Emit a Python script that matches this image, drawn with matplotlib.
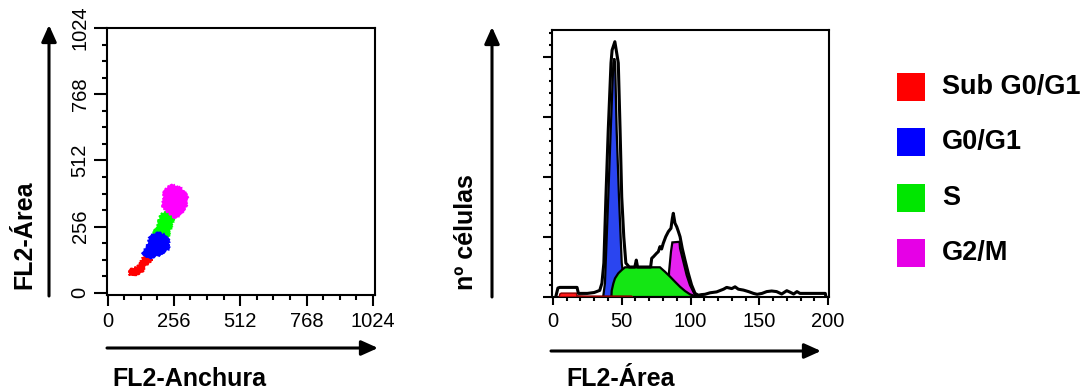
import matplotlib
matplotlib.use("Agg")
import matplotlib.pyplot as plt
from matplotlib.patches import Rectangle

plt.rcParams['font.family'] = ['Liberation Sans', 'DejaVu Sans']

# ---------------- data ----------------
# Dot plot clusters (outline vertices, FL2-Anchura vs FL2-Area)
red_x = [82, 88, 100, 114, 125, 133, 140, 146, 155, 165, 172, 160, 153, 145, 140, 128, 114, 100, 86]
red_y = [69, 89, 95, 102, 112, 127, 140, 143, 140, 134, 125, 118, 112, 100, 89, 80, 73, 68, 66]
green_x = [210, 236, 258, 249, 242, 236, 217, 191, 178, 189, 198, 204]
green_y = [307, 313, 294, 268, 245, 217, 217, 223, 230, 255, 281, 300]
blue_x = [178, 198, 223, 236, 236, 223, 198, 178, 159, 146, 133, 140, 153, 159, 165]
blue_y = [227, 232, 223, 204, 172, 159, 146, 137, 137, 146, 153, 166, 181, 202, 220]
mag_x = [217, 219, 236, 249, 266, 284, 296, 307, 309, 304, 294, 281, 266, 253, 236, 221, 213, 210]
mag_y = [365, 397, 412, 416, 412, 403, 394, 377, 358, 339, 322, 300, 288, 294, 309, 320, 335, 352]

# Histogram (FL2-Area vs cell count)
total_x = [2, 3.6, 5, 17.5, 18.5, 25, 30, 34, 35.6, 37, 38.5, 40.2, 42.2, 43, 45, 46, 47.5, 48.8,
           50, 51.5, 53, 55.5, 59.5, 60.6, 61.5, 71, 71.8, 73, 74.2, 75.4, 76.6, 77.8, 79, 80.2,
           82, 83.9, 85.8, 86.8, 87.5, 88.7, 90, 91.2, 92.4, 94, 96, 98.4, 100.8, 103.3, 105.7,
           108, 110.5, 114.2, 119, 124, 126.3, 130, 132.4, 134.8, 138.5, 142.2, 145.8, 148.4,
           152, 155.4, 159, 162.6, 166.3, 170, 172.4, 175, 177.4, 179.6, 198, 198.5]
total_y = [0, 30, 32, 32, 12, 12, 15, 22, 46, 113, 333, 557, 780, 823, 851, 823, 780, 557,
           333, 200, 113, 100, 100, 123, 100, 100, 129, 134, 140, 146, 151, 168, 160, 179,
           201, 218, 229, 262, 279, 246, 234, 218, 201, 162, 123, 79, 40, 12, 6,
           8, 9, 14, 17, 26, 32, 28, 34, 26, 23, 18, 12, 9,
           12, 18, 20, 18, 10, 21, 16, 10, 18, 12, 12, 0]
g1_x = [36.5, 37.8, 40.2, 42, 43.9, 44.6, 45.2, 46.3, 48, 50, 52, 54]
g1_y = [0, 46, 333, 557, 780, 795, 780, 557, 333, 113, 40, 0]
s_x = [42.5, 42.7, 43.9, 45.1, 47.5, 50, 52.4, 77.8, 81.5, 85.1, 88.7, 92.4, 96, 99.6, 103.3, 104.5]
s_y = [0, 21, 45, 62, 79, 90, 99, 99, 84, 68, 51, 34, 20, 9, 3, 0]
g2_x = [84, 84.4, 85.8, 86.8, 92, 92.4, 94.8, 97.2, 99.6, 102, 103.3, 105]
g2_y = [0, 84, 151, 182, 184, 162, 118, 73, 40, 18, 7, 0]
sub_x = [4.5, 5, 6, 17, 17.5, 25, 57, 58]
sub_y = [0, 10, 13, 13, 4, 3, 3, 0]

legend_labels = ['Sub G0/G1', 'G0/G1', 'S', 'G2/M']
legend_colors = ['#ff0000', '#0000ff', '#00e600', '#e600e6']

left_ticks = [0, 256, 512, 768, 1024]
right_xticks = [0, 50, 100, 150, 200]

# ---------------- figure ----------------
W, H = 1085, 392
fig = plt.figure(figsize=(W / 100, H / 100), dpi=100)

def px_axes(l, t, r, b):
    return fig.add_axes([l / W, (H - b) / H, (r - l) / W, (b - t) / H])

lw_spine = 1.5

# Left dot plot
ax1 = px_axes(107, 28, 375, 295)
for xs, ys, col, z in [(red_x, red_y, '#ff0000', 2), (green_x, green_y, '#00ff00', 3),
                       (blue_x, blue_y, '#0000ff', 4), (mag_x, mag_y, '#ff00ff', 5)]:
    for p in ax1.fill(xs, ys, color=col, lw=1.2, zorder=z):
        p.set_sketch_params(scale=1.0, length=2.0, randomness=5)
ax1.set_xlim(-2, 1032)
ax1.set_ylim(-8, 1024)
ax1.set_xticks(left_ticks)
ax1.set_xticklabels([str(t) for t in left_ticks])
ax1.set_yticks(left_ticks)
ax1.set_yticklabels([str(t) for t in left_ticks], rotation=90, va='center')
ax1.set_xticks(range(0, 1025, 64), minor=True)
ax1.set_yticks(range(0, 1025, 64), minor=True)
ax1.tick_params(axis='y', which='major', length=9.5, width=1.5, direction='out', labelsize=14.5, pad=3)
ax1.tick_params(axis='x', which='major', length=8, width=1.5, direction='out', labelsize=14.5, pad=4)
ax1.tick_params(which='minor', length=3.5, width=1.5, direction='out')

# Right histogram
ax2 = px_axes(552, 30, 829, 297)
ax2.fill(total_x, total_y, facecolor='white', edgecolor='none', zorder=1)
ax2.fill(g1_x, g1_y, facecolor='#2a45f0', edgecolor='black', lw=1.6, zorder=2)
ax2.fill(g2_x, g2_y, facecolor='#e622f0', edgecolor='black', lw=1.6, zorder=3)
ax2.fill(s_x, s_y, facecolor='#14e614', edgecolor='black', lw=1.6, zorder=4)
ax2.fill(sub_x, sub_y, facecolor='#ff1a1a', edgecolor='#8b0000', lw=1.0, zorder=5)
ax2.plot(total_x, total_y, color='black', lw=2.2, zorder=6)
ax2.set_xlim(-0.7, 200.7)
ax2.set_ylim(0, 890)
ax2.set_xticks(right_xticks)
ax2.set_xticklabels([str(t) for t in right_xticks])
ax2.set_xticks(range(0, 201, 10), minor=True)
ax2.set_yticks(range(0, 801, 200))
ax2.set_yticklabels([])
ax2.set_yticks(range(0, 881, 40), minor=True)
ax2.tick_params(axis='y', which='major', length=6.5, width=1.5, direction='out')
ax2.tick_params(axis='y', which='minor', length=2.5, width=1.5, direction='out')
ax2.tick_params(axis='x', which='major', length=6, width=1.5, direction='out', labelsize=14.5, pad=5)
ax2.tick_params(axis='x', which='minor', length=3, width=1.5, direction='out')

for ax in (ax1, ax2):
    for s in ax.spines.values():
        s.set_linewidth(lw_spine)

# Arrows (figure pixels; image y measured from top)
def arrow(x0, y0, x1, y1):
    ax1.annotate('', xy=(x1, H - y1), xytext=(x0, H - y0),
                 xycoords='figure pixels', textcoords='figure pixels',
                 arrowprops=dict(arrowstyle='-|>,head_length=1.0,head_width=0.45',
                                 lw=2.2, color='black', mutation_scale=10,
                                 shrinkA=0, shrinkB=0),
                 annotation_clip=False)

arrow(49, 296, 49, 25)
arrow(107, 348, 378, 348)
arrow(492, 297, 492, 27)
arrow(551, 351, 821, 351)

# Axis titles
fig.text(24 / W, (H - 235) / H, 'FL2-Área', rotation=90, ha='center', va='center',
         fontsize=18, fontweight='bold')
fig.text(189 / W, 0.5 / H, 'FL2-Anchura', ha='center', va='bottom',
         fontsize=18, fontweight='bold')
fig.text(466 / W, (H - 232) / H, 'nº células', rotation=90, ha='center', va='center',
         fontsize=18, fontweight='bold')
fig.text(621 / W, 0.5 / H, 'FL2-Área', ha='center', va='bottom',
         fontsize=18, fontweight='bold')

# Legend
tops = [73, 128, 184, 239]
for lab, col, t in zip(legend_labels, legend_colors, tops):
    fig.patches.append(Rectangle((897 / W, (H - t - 28) / H), 28 / W, 28 / H,
                                 transform=fig.transFigure, facecolor=col, edgecolor='none'))
    fig.text(942 / W, (H - t - 14) / H, lab, ha='left', va='center',
             fontsize=19.5, fontweight='bold')

fig.savefig('out.png', dpi=100)
